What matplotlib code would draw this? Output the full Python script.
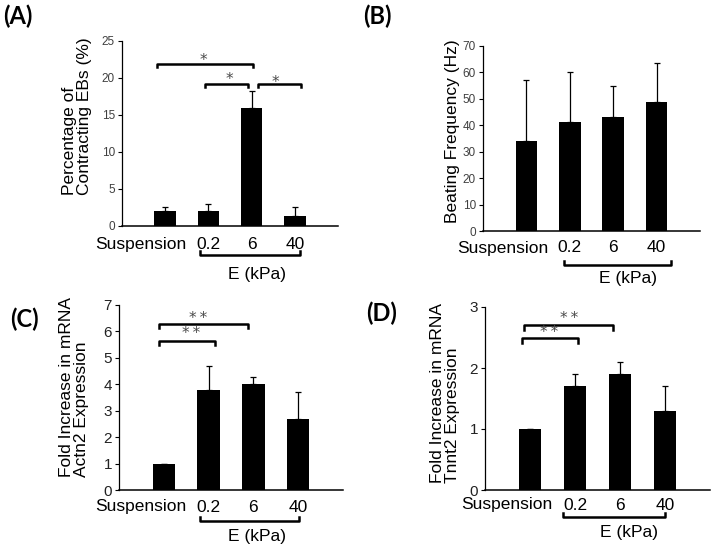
import numpy as np
import matplotlib
matplotlib.use('Agg')
import matplotlib.pyplot as plt
from matplotlib.transforms import blended_transform_factory

plt.rcParams['font.family'] = ['Liberation Sans', 'DejaVu Sans']

# data
groups = ['Suspension', '0.2', '6', '40']
pct_mean = [2.0, 2.0, 16.0, 1.3]
pct_err = [0.5, 1.0, 2.3, 1.2]
freq_mean = [34.0, 41.3, 43.0, 49.0]
freq_err = [23.0, 18.7, 11.7, 14.5]
actn2_mean = [1.0, 3.8, 4.0, 2.7]
actn2_err = [0.0, 0.9, 0.28, 1.02]
tnnt2_mean = [1.0, 1.7, 1.9, 1.3]
tnnt2_err = [0.0, 0.2, 0.2, 0.4]

# significance brackets: (x start, x end, height, text, text x, text y)
sig_a = [(0.81, 3.03, 21.9, '*', 1.88, 22.6),
         (1.93, 2.92, 19.2, '*', 2.48, 20.1),
         (3.15, 4.14, 19.2, '*', 3.56, 19.7)]
sig_c = [(0.89, 2.88, 6.28, '*\u2009*', 1.76, 6.58),
         (0.89, 2.14, 5.64, '*\u2009*', 1.61, 6.02)]
sig_d = [(0.87, 2.84, 2.70, '*\u2009*', 1.87, 2.84),
         (0.82, 2.07, 2.49, '*\u2009*', 1.42, 2.61)]

W, H = 713, 549
fig = plt.figure(figsize=(W / 100, H / 100), dpi=100)


def px_rect(left, right, top, bottom):
    return [left / W, 1 - bottom / H, (right - left) / W, (bottom - top) / H]


def panel(rect, means, errs, ymax, yticks, ytick_fs, ytick_col, sigs, tick_h,
          lab_off, br_off, br_x, e_off, e_x):
    ax = fig.add_axes(rect)
    x = np.arange(1, len(groups) + 1)
    ax.bar(x, means, 0.5, color='black', zorder=2)
    ax.errorbar(x, means, yerr=[np.zeros(len(errs)), errs], fmt='none',
                ecolor='black', elinewidth=0.9, capsize=2.5, capthick=0.9,
                zorder=1)
    ax.set_xlim(0, 5)
    ax.set_ylim(0, ymax)
    ax.set_yticks(yticks)
    ax.tick_params(axis='y', direction='out', length=3, width=0.8,
                   labelsize=ytick_fs, labelcolor=ytick_col, pad=2)
    ax.set_xticks([])
    for s in ['top', 'right']:
        ax.spines[s].set_visible(False)
    ax.spines['left'].set_linewidth(0.9)
    ax.spines['bottom'].set_linewidth(1.1)

    ah = rect[3] * H
    tr = blended_transform_factory(ax.transData, ax.transAxes)
    for i, g in enumerate(groups):
        if i == 0:
            ax.text(1.5, -lab_off / ah, g, transform=tr, ha='right',
                    va='center', fontsize=12.5)
        else:
            ax.text(x[i], -lab_off / ah, g, transform=tr, ha='center',
                    va='center', fontsize=12.5)
    yb = -br_off / ah
    ax.plot([br_x[0], br_x[0], br_x[1], br_x[1]],
            [yb + 4 / ah, yb, yb, yb + 4 / ah], color='black', lw=1.8,
            transform=tr, clip_on=False)
    ax.text(e_x, -e_off / ah, 'E (kPa)', transform=tr, ha='center',
            va='center', fontsize=12.5)

    for x0, x1, y, txt, tx, ty in sigs:
        ax.plot([x0, x0, x1, x1], [y - tick_h, y, y, y - tick_h],
                color='black', lw=1.8, clip_on=False)
        ax.annotate(txt, (tx, ty), xytext=(0, -4.8), textcoords='offset points',
                    ha='center', va='baseline', fontsize=11, color='#4a4a4a',
                    family=['DejaVu Sans'], annotation_clip=False)
    return ax


panel(px_rect(122, 338, 41, 226), pct_mean, pct_err, 25, range(0, 26, 5),
      8.5, '#404040', sig_a, 0.4, 19, 29, (1.8, 4.12), 49, 3.12)
panel(px_rect(483, 700, 46, 231), freq_mean, freq_err, 70, range(0, 71, 10),
      8.5, '#404040', [], 0, 17, 34, (1.87, 4.33), 47, 3.34)
panel(px_rect(119, 343, 305, 490), actn2_mean, actn2_err, 7, range(0, 8),
      11, '#222222', sig_c, 0.15, 17, 31, (1.81, 4.02), 47, 3.08)
panel(px_rect(485, 710, 307, 490), tnnt2_mean, tnnt2_err, 3, range(0, 4),
      11, '#222222', sig_d, 0.08, 15, 27, (1.73, 4.0), 43, 3.2)

# y axis labels
def ylab(xc, ybot, text, va='bottom'):
    fig.text(xc / W, 1 - ybot / H, text, rotation=90, ha='center', va=va,
             fontsize=12.5, multialignment='left', linespacing=1.0)


ylab(77, 195, 'Percentage of\nContracting EBs (%)')
ylab(452, 131, 'Beating Frequency (Hz)', va='center')
ylab(74, 477, 'Fold Increase in mRNA\nActn2 Expression')
ylab(445, 483, 'Fold Increase in mRNA\nTnnt2 Expression')

# panel letters
for lx, ly, t in [(18, 16, '(A)'), (377, 16, '(B)'), (24, 319, '(C)'),
                  (382, 313, '(D)')]:
    fig.text(lx / W, 1 - ly / H, t, ha='center', va='center', fontsize=17,
             fontweight='bold', family=['Lato', 'DejaVu Sans'])

fig.savefig('out.png', dpi=100)
